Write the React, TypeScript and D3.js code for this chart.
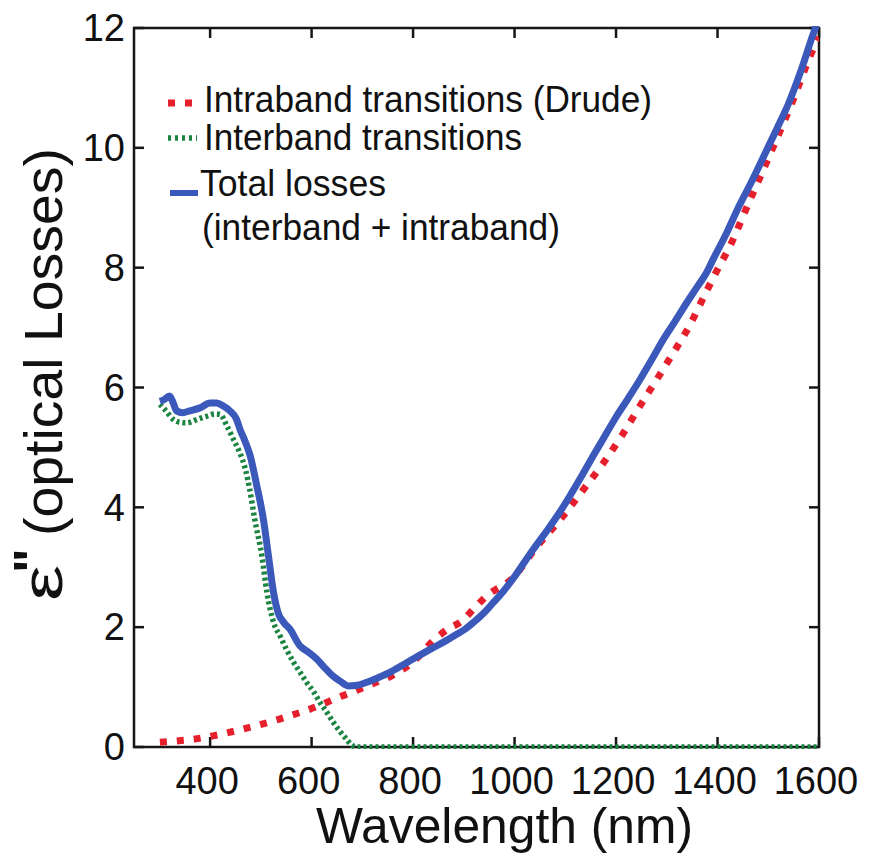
import React from "react";
import * as d3 from "d3";

// Wavelength (nm) and ε'' values for each contribution
const drudeWavelength = [301, 367, 465, 531, 560, 590, 623, 653, 679, 709, 760, 800, 843, 869, 896, 919, 942, 1000, 1037, 1096, 1136, 1175, 1211, 1247, 1280, 1313, 1346, 1375, 1405, 1418, 1464, 1510, 1549, 1585, 1600];
const drudeLoss = [0.08, 0.13, 0.3, 0.45, 0.53, 0.61, 0.72, 0.83, 0.91, 1.02, 1.2, 1.42, 1.8, 1.97, 2.1, 2.3, 2.5, 2.85, 3.27, 3.86, 4.3, 4.74, 5.19, 5.69, 6.13, 6.58, 7.05, 7.55, 8.05, 8.25, 9.13, 10.02, 10.8, 11.58, 11.85];

const interbandWavelength = [301, 312, 327, 340, 354, 375, 393, 410, 420, 433, 445, 458, 470, 478, 488, 502, 512, 525, 538, 551, 564, 577, 590, 604, 617, 630, 643, 656, 669, 679, 690, 800, 1000, 1200, 1400, 1600];
const interbandLoss = [5.72, 5.62, 5.47, 5.42, 5.41, 5.47, 5.52, 5.56, 5.55, 5.36, 5.15, 4.92, 4.62, 4.3, 3.8, 3.19, 2.58, 2.08, 1.85, 1.62, 1.42, 1.25, 1.08, 0.92, 0.74, 0.58, 0.41, 0.26, 0.13, 0.03, 0, 0, 0, 0, 0, 0];

const totalWavelength = [301, 310, 320, 327, 334, 346, 360, 380, 400, 413, 426, 439, 452, 459, 469, 479, 492, 505, 515, 525, 534, 545, 557, 577, 594, 610, 625, 640, 656, 672, 690, 709, 732, 755, 778, 800, 823, 847, 866, 886, 903, 919, 940, 958, 978, 998, 1011, 1037, 1063, 1086, 1109, 1132, 1155, 1178, 1201, 1224, 1247, 1270, 1293, 1316, 1339, 1360, 1378, 1392, 1418, 1442, 1468, 1494, 1517, 1540, 1565, 1589, 1600];
const totalLoss = [5.77, 5.8, 5.86, 5.75, 5.61, 5.58, 5.61, 5.66, 5.74, 5.74, 5.69, 5.61, 5.47, 5.3, 5.1, 4.86, 4.36, 3.8, 3.19, 2.58, 2.24, 2.08, 1.97, 1.69, 1.58, 1.47, 1.33, 1.2, 1.1, 1.02, 1.03, 1.08, 1.16, 1.25, 1.36, 1.47, 1.58, 1.69, 1.78, 1.88, 1.97, 2.08, 2.24, 2.41, 2.6, 2.82, 2.98, 3.3, 3.6, 3.88, 4.19, 4.52, 4.86, 5.19, 5.52, 5.82, 6.13, 6.46, 6.8, 7.1, 7.41, 7.68, 7.91, 8.15, 8.58, 9.02, 9.45, 9.91, 10.32, 10.74, 11.3, 11.91, 12.15];

const xTicks = [400, 600, 800, 1000, 1200, 1400, 1600];
const yTicks = [0, 2, 4, 6, 8, 10, 12];

const legendLabels = ["Intraband transitions (Drude)", "Interband transitions", "Total losses", "(interband + intraband)"];

const RED = "#e5202c";
const GREEN = "#1a8440";
const BLUE = "#3b58bb";
const FONT = "'Liberation Sans', Arial, Helvetica, sans-serif";

export default function App() {
  const W = 872;
  const H = 857;
  const x = d3.scaleLinear().domain([250, 1600]).range([134, 819]);
  const y = d3.scaleLinear().domain([0, 12]).range([747, 28]);
  const [x0, x1] = x.range();
  const [y0, y1] = y.range();

  const line = d3
    .line<[number, number]>()
    .x((d) => x(d[0]))
    .y((d) => y(d[1]))
    .curve(d3.curveMonotoneX);

  const zip = (a: number[], b: number[]) => a.map((v, i) => [v, b[i]] as [number, number]);
  const drudePath = line(zip(drudeWavelength, drudeLoss)) || "";
  const interPath = line(zip(interbandWavelength, interbandLoss)) || "";
  const totalPath = line(zip(totalWavelength, totalLoss)) || "";

  const tickLen = 10;

  return (
    <svg
      width={W}
      height={H}
      style={{ position: "absolute", left: 0, top: 0, background: "#fff" }}
      fontFamily={FONT}
    >
      <defs>
        <clipPath id="plotArea">
          <rect x={x0} y={y1 - 2} width={x1 - x0} height={y0 - y1 + 4} />
        </clipPath>
      </defs>
      <rect x={0} y={0} width={W} height={H} fill="#fff" />

      {/* axes box with inward ticks on all sides */}
      <g stroke="#161616" strokeWidth={2.5} fill="none">
        <rect x={x0} y={y1} width={x1 - x0} height={y0 - y1} />
        {xTicks.map((t) => (
          <g key={"xt" + t}>
            <line x1={x(t)} x2={x(t)} y1={y0} y2={y0 - tickLen} />
            <line x1={x(t)} x2={x(t)} y1={y1} y2={y1 + tickLen} />
          </g>
        ))}
        {yTicks.map((t) => (
          <g key={"yt" + t}>
            <line x1={x0} x2={x0 + tickLen} y1={y(t)} y2={y(t)} />
            <line x1={x1} x2={x1 - tickLen} y1={y(t)} y2={y(t)} />
          </g>
        ))}
      </g>

      {/* tick labels */}
      <g fill="#111" fontSize={38}>
        {xTicks.map((t) => (
          <text key={"xl" + t} x={x(t) - 3} y={794} textAnchor="middle">
            {t}
          </text>
        ))}
        {yTicks.map((t) => (
          <text key={"yl" + t} x={125} y={y(t)} dy="0.35em" textAnchor="end">
            {t}
          </text>
        ))}
      </g>

      {/* curves */}
      <g clipPath="url(#plotArea)" fill="none">
        <path d={drudePath} stroke={RED} strokeWidth={7} strokeDasharray="7 10" />
        <path d={interPath} stroke={GREEN} strokeWidth={5.5} strokeDasharray="3 3" />
        <path d={totalPath} stroke={BLUE} strokeWidth={7} strokeLinejoin="round" />
      </g>

      {/* legend */}
      <g>
        <line x1={168} x2={195} y1={103} y2={103} stroke={RED} strokeWidth={7} strokeDasharray="7 10" />
        <line x1={168} x2={197} y1={138} y2={138} stroke={GREEN} strokeWidth={5.5} strokeDasharray="3 4" />
        <line x1={170} x2={198} y1={193} y2={193} stroke={BLUE} strokeWidth={6} />
        <g fill="#111" fontSize={37}>
          <text x={204} y={112} textLength={448} lengthAdjust="spacingAndGlyphs">{legendLabels[0]}</text>
          <text x={204} y={150} textLength={318} lengthAdjust="spacingAndGlyphs">{legendLabels[1]}</text>
          <text x={200} y={196} textLength={186} lengthAdjust="spacingAndGlyphs">{legendLabels[2]}</text>
          <text x={202} y={240} textLength={358} lengthAdjust="spacingAndGlyphs">{legendLabels[3]}</text>
        </g>
      </g>

      {/* axis titles */}
      <text x={316} y={843} fontSize={50} fill="#111" textLength={377} lengthAdjust="spacingAndGlyphs">
        Wavelength (nm)
      </text>
      <g fill="#111">
        <text transform="translate(62,601) rotate(-90)" fontSize={58} textLength={36} lengthAdjust="spacingAndGlyphs">
          ε
        </text>
        <text transform="translate(50,573) rotate(-90)" fontSize={52} fontWeight="bold">
          "
        </text>
        <text transform="translate(62,536) rotate(-90)" fontSize={54} textLength={388} lengthAdjust="spacingAndGlyphs">
          (optical Losses)
        </text>
      </g>
    </svg>
  );
}
